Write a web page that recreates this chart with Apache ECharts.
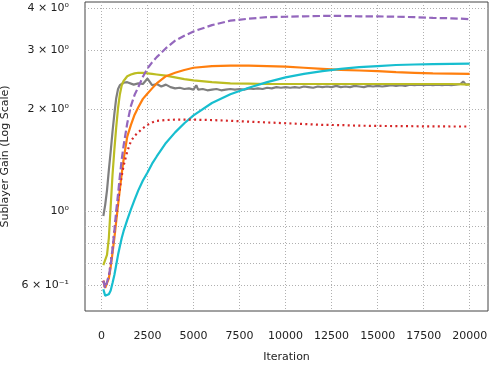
<!DOCTYPE html>
<html>
<head>
<meta charset="utf-8"/>
<title>Sublayer gain</title>
<script src="https://cdn.jsdelivr.net/npm/echarts@6/dist/echarts.min.js"></script>
<style>
  html, body { margin: 0; padding: 0; background: #fff; }
  #main { width: 489px; height: 365px; }
</style>
</head>
<body>
<div id="main"></div>
<script>
// iterations shared by the smooth curves
var iters = [100, 200, 300, 400, 500, 600, 700, 800, 900, 1000, 1100, 1200, 1400, 1600, 1800, 2000, 2250, 2500, 2750, 3000,
    3500, 4000, 4500, 5000, 6000, 7000, 8000, 9000, 10000, 11000, 12000, 13000, 14000, 15000, 16000, 17000, 18000, 19000, 20000];

var olive = [0.69, 0.685, 0.74, 0.83, 1.03, 1.28, 1.52, 1.77, 2.02, 2.22, 2.36, 2.43, 2.51, 2.54, 2.56, 2.57, 2.57, 2.56, 2.55, 2.54,
    2.52, 2.49, 2.46, 2.44, 2.41, 2.39, 2.385, 2.38, 2.38, 2.38, 2.38, 2.38, 2.38, 2.38, 2.38, 2.38, 2.38, 2.38, 2.37];
var purple = [0.62, 0.59, 0.585, 0.64, 0.69, 0.77, 0.87, 1.0, 1.12, 1.27, 1.42, 1.56, 1.82, 2.05, 2.21, 2.33, 2.50, 2.65, 2.76, 2.86,
    3.04, 3.20, 3.31, 3.41, 3.56, 3.67, 3.72, 3.76, 3.77, 3.78, 3.79, 3.79, 3.78, 3.78, 3.77, 3.76, 3.74, 3.73, 3.71];
var orange = [0.62, 0.59, 0.585, 0.63, 0.68, 0.75, 0.83, 0.93, 1.04, 1.16, 1.29, 1.42, 1.66, 1.80, 1.93, 2.03, 2.15, 2.23, 2.31, 2.39,
    2.51, 2.57, 2.62, 2.66, 2.69, 2.70, 2.70, 2.69, 2.68, 2.66, 2.64, 2.62, 2.61, 2.60, 2.58, 2.57, 2.56, 2.555, 2.55];
var red = [0.62, 0.59, 0.59, 0.64, 0.70, 0.77, 0.87, 0.97, 1.07, 1.17, 1.27, 1.36, 1.50, 1.61, 1.67, 1.71, 1.76, 1.80, 1.83, 1.85,
    1.86, 1.865, 1.865, 1.865, 1.86, 1.85, 1.84, 1.83, 1.82, 1.81, 1.80, 1.797, 1.79, 1.787, 1.785, 1.783, 1.781, 1.78, 1.78];
var cyan = [0.585, 0.56, 0.555, 0.565, 0.58, 0.61, 0.645, 0.69, 0.74, 0.785, 0.83, 0.87, 0.94, 1.01, 1.08, 1.15, 1.23, 1.30, 1.38, 1.45,
    1.59, 1.71, 1.82, 1.92, 2.09, 2.22, 2.32, 2.41, 2.49, 2.55, 2.60, 2.64, 2.67, 2.69, 2.71, 2.72, 2.725, 2.73, 2.735];

// the gray curve is noisy, so it has its own denser iterations
var grayIters = [100, 200, 300, 400, 500, 600, 700, 800, 900, 1000, 1100, 1200, 1300, 1400, 1500, 1750, 2000, 2250, 2500, 2750,
    3000, 3250, 3500, 3750, 4000, 4250, 4500, 4750, 5000, 5150, 5250, 5500, 5750, 6000, 6250, 6500, 6750, 7000, 7250, 7500,
    7750, 8000, 8250, 8500, 8750, 9000, 9250, 9500, 9750, 10000, 10250, 10500, 10750, 11000, 11250, 11500, 11750, 12000, 12250, 12500,
    12750, 13000, 13250, 13500, 13750, 14000, 14250, 14500, 14750, 15000, 15250, 15500, 15750, 16000, 16250, 16500, 16750, 17000, 17250, 17500,
    17750, 18000, 18250, 18500, 18750, 19000, 19250, 19500, 19650, 19800, 20000];
var gray = [0.965, 1.04, 1.15, 1.32, 1.50, 1.72, 1.94, 2.16, 2.30, 2.36, 2.39, 2.40, 2.40, 2.41, 2.40, 2.37, 2.39, 2.38, 2.47, 2.36,
    2.38, 2.34, 2.37, 2.33, 2.31, 2.32, 2.30, 2.31, 2.29, 2.36, 2.29, 2.30, 2.28, 2.29, 2.30, 2.28, 2.29, 2.30, 2.29, 2.30,
    2.29, 2.31, 2.30, 2.31, 2.30, 2.32, 2.31, 2.33, 2.32, 2.33, 2.32, 2.33, 2.32, 2.34, 2.33, 2.32, 2.34, 2.33, 2.34, 2.33,
    2.35, 2.33, 2.34, 2.33, 2.35, 2.34, 2.33, 2.35, 2.34, 2.35, 2.34, 2.35, 2.36, 2.35, 2.36, 2.35, 2.37, 2.36, 2.37, 2.36,
    2.37, 2.36, 2.37, 2.36, 2.37, 2.36, 2.37, 2.38, 2.42, 2.37, 2.38];

var xTicks = [0, 2500, 5000, 7500, 10000, 12500, 15000, 17500, 20000];
var yGridTicks = [0.6, 0.7, 0.8, 0.9, 1, 2, 3, 4];
var yLabelTicks = [0.6, 1, 2, 3, 4];
var yLabelText = { '0.6': '6 × 10⁻¹', '1': '10⁰', '2': '2 × 10⁰', '3': '3 × 10⁰', '4': '4 × 10⁰' };

function pairs(xs, ys) {
    return xs.map(function (x, i) { return [x, ys[i]]; });
}

function line(name, color, xs, ys, type, width) {
    return {
        name: name,
        type: 'line',
        data: pairs(xs, ys),
        showSymbol: false,
        symbol: 'none',
        lineStyle: { color: color, width: width || 2, type: type || 'solid', cap: 'butt' },
        itemStyle: { color: color }
    };
}

var font = 'DejaVu Sans';
var myChart = echarts.init(document.getElementById('main'));
var option = {
    animation: false,
    backgroundColor: '#ffffff',
    grid: {
        left: 85, right: 1, top: 2, bottom: 54,
        show: true, borderColor: '#444', borderWidth: 1,
        containLabel: false, outerBoundsMode: 'none'
    },
    xAxis: {
        type: 'value',
        min: -895,
        max: 20995,
        name: 'Iteration',
        nameLocation: 'middle',
        nameGap: 41,
        nameTextStyle: { fontFamily: font, fontSize: 11, color: '#222' },
        axisLine: { show: false },
        axisTick: { show: false, customValues: xTicks },
        axisLabel: {
            customValues: xTicks,
            margin: 20,
            fontFamily: font, fontSize: 11, color: '#222',
            formatter: function (v) { return String(Math.round(v)); }
        },
        splitLine: { show: true, lineStyle: { color: '#b0b0b0', type: [1, 2], width: 1 } }
    },
    yAxis: {
        type: 'log',
        logBase: 10,
        min: 0.504,
        max: 4.17,
        name: 'Sublayer Gain (Log Scale)',
        nameLocation: 'middle',
        nameGap: 70,
        nameTextStyle: { fontFamily: font, fontSize: 11, color: '#222' },
        axisLine: { show: false },
        axisTick: { show: false, customValues: yGridTicks },
        minorTick: { show: false },
        axisLabel: {
            customValues: yLabelTicks,
            margin: 16,
            fontFamily: font, fontSize: 11, color: '#222',
            formatter: function (v) {
                var k = String(Math.round(v * 10) / 10);
                return yLabelText[k] || '';
            }
        },
        splitLine: { show: true, lineStyle: { color: '#b0b0b0', type: [1, 2], width: 1 } }
    },
    series: [
        line('gray', '#7f7f7f', grayIters, gray, 'solid', 2.2),
        line('olive', '#bcbd22', iters, olive, 'solid', 2.2),
        line('orange', '#ff7f0e', iters, orange, 'solid', 2.2),
        line('cyan', '#17becf', iters, cyan, 'solid', 2.2),
        line('red', '#d62728', iters, red, [2, 3.3], 2.2),
        line('purple', '#9467bd', iters, purple, [7.4, 3.2], 2.2)
    ]
};
myChart.setOption(option);
</script>
</body>
</html>
